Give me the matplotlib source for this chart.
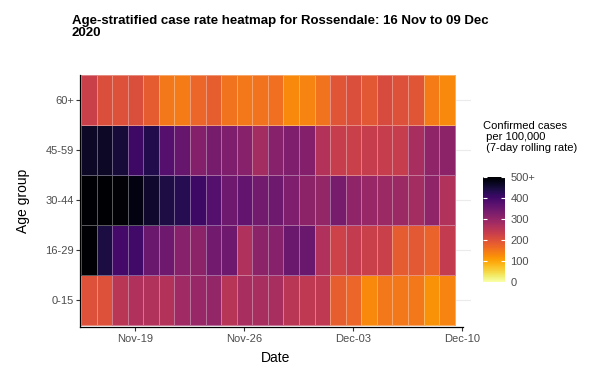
import numpy as np
import matplotlib
matplotlib.use("Agg")
import matplotlib.pyplot as plt
from matplotlib.colors import Normalize
from matplotlib.cm import ScalarMappable

plt.rcParams['font.family'] = ['Liberation Sans', 'DejaVu Sans']

dates = ["Nov-16", "Nov-17", "Nov-18", "Nov-19", "Nov-20", "Nov-21", "Nov-22", "Nov-23",
         "Nov-24", "Nov-25", "Nov-26", "Nov-27", "Nov-28", "Nov-29", "Nov-30", "Dec-01",
         "Dec-02", "Dec-03", "Dec-04", "Dec-05", "Dec-06", "Dec-07", "Dec-08", "Dec-09"]
age_groups = ["0-15", "16-29", "30-44", "45-59", "60+"]

rate_0_15 = [200, 200, 250, 265, 262, 260, 285, 295, 300, 255, 275, 275,
             275, 250, 245, 245, 180, 170, 130, 150, 150, 150, 120, 135]
rate_16_29 = [520, 445, 395, 400, 350, 345, 315, 310, 340, 345, 265, 310,
              315, 350, 350, 265, 225, 240, 230, 230, 185, 188, 175, 240]
rate_30_44 = [560, 530, 495, 485, 460, 440, 430, 405, 375, 345, 360, 340,
              345, 325, 310, 300, 335, 305, 295, 290, 290, 280, 305, 262]
rate_45_59 = [465, 465, 450, 405, 435, 375, 355, 320, 335, 325, 315, 280,
              315, 325, 320, 260, 235, 230, 235, 235, 235, 275, 305, 310]
rate_60_plus = [230, 205, 200, 205, 185, 150, 145, 170, 180, 155, 150, 155,
                160, 130, 135, 155, 195, 205, 190, 210, 200, 195, 145, 130]

tick_idx = [3, 10, 17, 24]
tick_labels = ["Nov-19", "Nov-26", "Dec-03", "Dec-10"]
cbar_ticks = [0, 100, 200, 300, 400, 500]
cbar_labels = ["0", "100", "200", "300", "400", "500+"]

Z = np.clip(np.array([rate_0_15, rate_16_29, rate_30_44, rate_45_59, rate_60_plus], dtype=float), 0, 500)

W, H = 589, 372
fig = plt.figure(figsize=(W / 100, H / 100), dpi=100)

x_left_px, x_right_px = 80, 471
y_top_px, y_bot_px = 75, 327
ax = fig.add_axes([x_left_px / W, 1 - y_bot_px / H, (x_right_px - x_left_px) / W, (y_bot_px - y_top_px) / H])

cmap = plt.get_cmap('inferno_r')
norm = Normalize(0, 500)
xe = np.arange(len(dates) + 1) - 0.5
ye = np.arange(len(age_groups) + 1) - 0.5
ax.pcolormesh(xe, ye, Z, cmap=cmap, norm=norm, edgecolors=(1, 1, 1, 0.35), linewidth=0.6, zorder=2)

ax.set_xlim(-0.56, 24.55)
ax.set_ylim(-0.54, 4.5)
ax.set_yticks(range(len(age_groups)))
ax.set_yticklabels(age_groups)
ax.set_xticks(tick_idx)
ax.set_xticklabels(tick_labels)
ax.grid(axis='y', color='#ebebeb', linewidth=0.8, zorder=0)
ax.set_axisbelow(True)
for s in ['top', 'right']:
    ax.spines[s].set_visible(False)
for s in ['left', 'bottom']:
    ax.spines[s].set_linewidth(0.9)
    ax.spines[s].set_color('black')
ax.spines['bottom'].set_bounds(-0.56, 24.06)
ax.tick_params(axis='both', labelsize=8, colors='#333333', labelcolor='#4d4d4d', length=3, width=0.8, pad=2)
ax.tick_params(axis='y', pad=1.2)
ax.set_xlabel("Date", fontsize=10, labelpad=5)
ax.set_ylabel("Age group", fontsize=10, labelpad=11)

fig.text(72 / W, 1 - 15 / H, "Age-stratified case rate heatmap for Rossendale: 16 Nov to 09 Dec\n2020",
         fontsize=9.5, fontweight='bold', ha='left', va='top', linespacing=1.05)

# colour bar
cb_top, cb_bot = 177, 282
cax = fig.add_axes([483 / W, 1 - cb_bot / H, 22 / W, (cb_bot - cb_top) / H])
cb = fig.colorbar(ScalarMappable(norm=norm, cmap=cmap), cax=cax)
cb.outline.set_visible(False)
cb.set_ticks(cbar_ticks)
cb.set_ticklabels(cbar_labels)
cax.tick_params(axis='y', direction='in', length=3, width=0.8, color='white',
                left=True, right=True, labelsize=8, labelcolor='#4d4d4d', pad=4)
fig.text(483 / W, 1 - 121 / H, "Confirmed cases\n per 100,000\n (7-day rolling rate)",
         fontsize=8, ha='left', va='top', linespacing=1.1)

fig.savefig("out.png", dpi=100)
